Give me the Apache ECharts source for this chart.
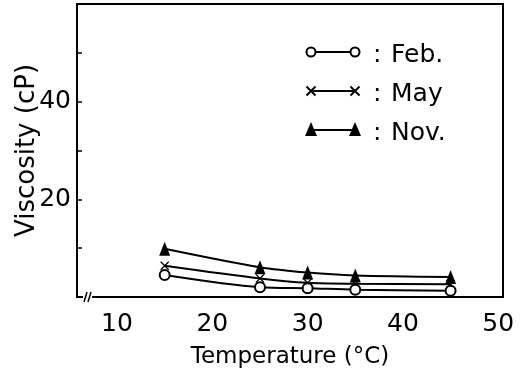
<!DOCTYPE html>
<html>
<head>
<meta charset="utf-8">
<script src="https://cdn.jsdelivr.net/npm/echarts@6/dist/echarts.min.js"></script>
<style>html,body{margin:0;padding:0;background:#fff;}#c{width:524px;height:373px;}</style>
</head>
<body>
<div id="c"></div>
<script>
var temps = [15, 25, 30, 35, 45];
var feb = [4.5, 2.0, 1.8, 1.5, 1.3];
var may = [6.4, 3.8, 2.9, 2.7, 2.6];
var nov = [9.9, 6.1, 5.0, 4.4, 4.1];
var xLabels = [10, 20, 30, 40, 50];
var yLabels = [20, 40];
var yTicks = [10, 20, 30, 40, 50];
var legendNames = ['Feb.', 'May', 'Nov.'];

var FONT = 'DejaVu Sans';
function pairs(ys) { return temps.map(function (t, i) { return [t, ys[i]]; }); }
var crossPath = 'path://M0,1L1,0L5,4L9,0L10,1L6,5L10,9L9,10L5,6L1,10L0,9L4,5Z';

var chart = echarts.init(document.getElementById('c'), null, {renderer: 'canvas'});
var lineStyle = {color: '#000', width: 2};
var option = {
  animation: false,
  backgroundColor: '#fff',
  grid: {left: 77, right: 21, top: 4, bottom: 76, show: true, borderColor: '#000', borderWidth: 2,
         containLabel: false, outerBoundsMode: 'none'},
  xAxis: {
    type: 'value', min: 5.8, max: 50.5,
    axisLine: {show: true, lineStyle: {color: '#000', width: 2}},
    axisTick: {show: false},
    splitLine: {show: false},
    axisLabel: {customValues: xLabels, color: '#000', fontFamily: FONT, fontSize: 25, margin: 15},
    name: 'Temperature (°C)', nameLocation: 'middle', nameGap: 49, nameMoveOverlap: false,
    nameTextStyle: {color: '#000', fontFamily: FONT, fontSize: 23}
  },
  yAxis: {
    type: 'value', min: 0, max: 60,
    axisLine: {show: true, lineStyle: {color: '#000', width: 2}},
    axisTick: {show: true, inside: true, length: 5, customValues: yTicks, lineStyle: {color: '#000', width: 1.5}},
    splitLine: {show: false},
    axisLabel: {customValues: yLabels, color: '#000', fontFamily: FONT, fontSize: 25, margin: 6, padding: [3, 0, 0, 0]},
    name: 'Viscosity (cP)', nameLocation: 'middle', nameGap: 37, nameMoveOverlap: false,
    nameTextStyle: {color: '#000', fontFamily: FONT, fontSize: 26}
  },
  series: [
    {name: 'Feb.', type: 'line', smooth: 0.3, data: pairs(feb), symbol: 'circle', symbolSize: 10,
     itemStyle: {color: '#fff', borderColor: '#000', borderWidth: 2}, lineStyle: lineStyle, z: 3},
    {name: 'May', type: 'line', smooth: 0.3, data: pairs(may), symbol: crossPath, symbolSize: 9,
     itemStyle: {color: '#000'}, lineStyle: lineStyle, z: 2},
    {name: 'Nov.', type: 'line', smooth: 0.3, data: pairs(nov), symbol: 'triangle', symbolSize: [11, 14],
     itemStyle: {color: '#000'}, lineStyle: lineStyle, z: 4}
  ],
  graphic: []
};

var rowsY = [52, 91, 130];
var g = [];
rowsY.forEach(function (y, i) {
  g.push({type: 'line', shape: {x1: 311, y1: y, x2: 355, y2: y}, style: {stroke: '#000', lineWidth: 2}, z: 10});
  [311, 355].forEach(function (x) {
    if (i === 0) {
      g.push({type: 'circle', shape: {cx: x, cy: y, r: 4.5}, style: {fill: '#fff', stroke: '#000', lineWidth: 2}, z: 11});
    } else if (i === 1) {
      g.push({type: 'polyline', shape: {points: [[x - 4.5, y - 4.5], [x + 4.5, y + 4.5]]}, style: {stroke: '#000', lineWidth: 2}, z: 11});
      g.push({type: 'polyline', shape: {points: [[x - 4.5, y + 4.5], [x + 4.5, y - 4.5]]}, style: {stroke: '#000', lineWidth: 2}, z: 11});
    } else {
      g.push({type: 'polygon', shape: {points: [[x, y - 8], [x + 6, y + 6], [x - 6, y + 6]]}, style: {fill: '#000'}, z: 11});
    }
  });
  g.push({type: 'text', left: 373, top: y - 9, style: {text: ':', fill: '#000', font: '25px "' + FONT + '"'}, z: 11});
  g.push({type: 'text', left: 391, top: y - 9, style: {text: legendNames[i], fill: '#000', font: '25px "' + FONT + '"'}, z: 11});
});
// axis break mark
g.push({type: 'rect', shape: {x: 83, y: 293, width: 9, height: 8}, style: {fill: '#fff'}, z: 20});
g.push({type: 'polyline', shape: {points: [[84, 302], [87, 292]]}, style: {stroke: '#000', lineWidth: 1.5}, z: 21});
g.push({type: 'polyline', shape: {points: [[88, 302], [91, 292]]}, style: {stroke: '#000', lineWidth: 1.5}, z: 21});
option.graphic = g;
chart.setOption(option);
</script>
</body>
</html>
